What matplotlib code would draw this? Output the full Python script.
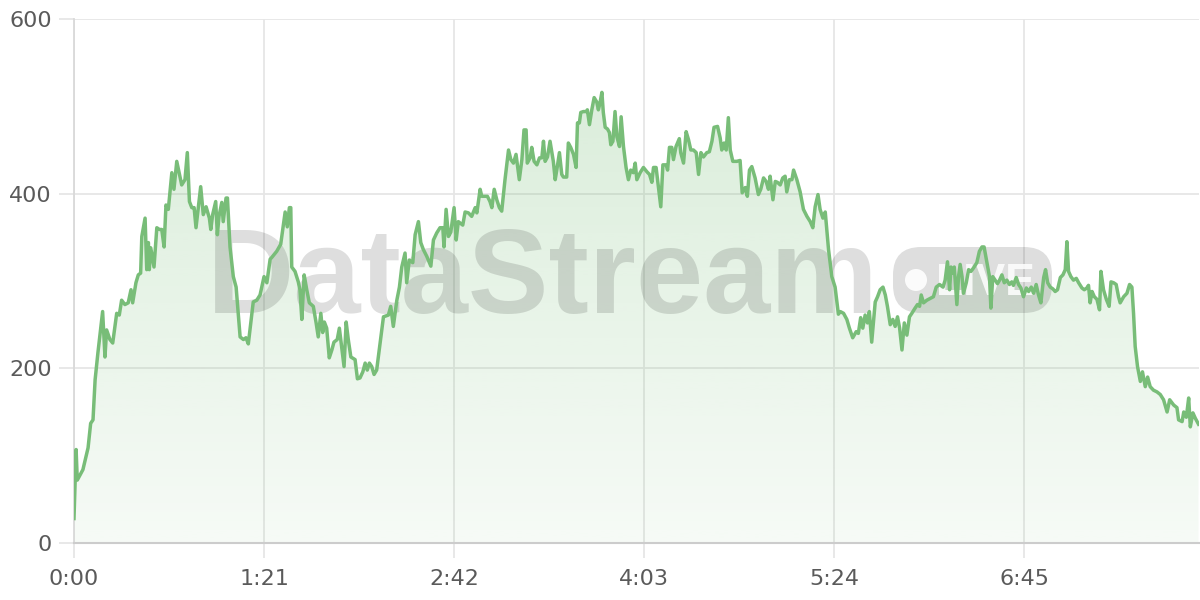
import numpy as np
import matplotlib
matplotlib.use("Agg")
import matplotlib.pyplot as plt
from matplotlib.patches import FancyBboxPatch, Circle
from matplotlib.transforms import IdentityTransform

plt.rcParams['font.family'] = ['Liberation Sans', 'DejaVu Sans']

# ---------------- data (time in seconds, value) ----------------
times_a = [0.0, 0.9, 1.4, 3.8, 6.0, 7.1, 8.1, 9.0, 10.2, 12.2,
           13.2, 13.9, 15.3, 16.5, 18.2, 19.3, 20.3, 21.7, 23.1, 24.3,
           25.0, 26.4, 27.4, 28.4, 28.9, 30.3, 31.0, 31.7, 32.1, 32.7,
           34.1, 35.3, 36.4, 37.4, 38.4, 39.2, 40.2, 41.7, 42.6, 43.8,
           45.9, 47.3, 48.3, 49.2, 50.2, 51.2, 52.0, 54.0, 55.1, 56.3,
           57.7, 58.3, 59.1, 60.4, 61.1, 61.8, 63.0, 63.6, 64.8, 65.4,
           66.5, 67.9, 69.1, 70.8, 72.2, 73.3, 74.3, 76.4, 77.9, 79.3,
           81.0, 82.2, 83.6]
values_a = [28, 107, 72, 84, 109, 137, 141, 187, 218, 265,
            213, 244, 233, 229, 263, 261, 278, 273, 275, 290,
            275, 298, 307, 309, 351, 372, 313, 344, 313, 338,
            316, 361, 359, 359, 339, 387, 382, 424, 405, 437,
            410, 416, 447, 391, 384, 384, 361, 408, 376, 385,
            372, 359, 376, 391, 353, 374, 390, 368, 395, 395,
            339, 305, 293, 236, 233, 235, 228, 276, 278, 284,
            305, 298, 325]

times_b = [84.3, 86.4, 88.1, 90.0, 90.9, 91.8, 92.4, 92.8, 94.2, 95.6,
           96.3, 97.1, 98.1, 99.2, 100.3, 102.0, 103.2, 104.1, 105.2, 106.0,
           106.7, 107.7, 108.8, 109.9, 110.8, 112.2, 113.1, 114.1, 115.1, 116.0,
           116.9, 118.0, 119.8, 120.8, 121.9, 123.1, 124.1, 125.0, 125.9, 126.9,
           127.9, 129.0, 130.8, 131.9, 134.0, 135.0, 136.1, 137.6, 138.7, 139.7,
           141.1, 141.8, 142.9, 144.4, 145.4, 146.8, 147.8, 148.9, 150.4, 152.1,
           153.2, 154.6, 156.0, 157.2, 157.7, 158.6, 159.6, 160.6, 162.0, 162.9,
           163.8]
values_b = [327, 334, 342, 379, 362, 384, 384, 316, 311, 299,
            290, 256, 307, 290, 275, 271, 252, 236, 263, 241,
            253, 246, 212, 221, 230, 233, 246, 224, 202, 253,
            233, 213, 210, 188, 189, 196, 206, 198, 206, 202,
            193, 198, 236, 259, 261, 271, 248, 278, 293, 316,
            332, 298, 324, 321, 353, 368, 344, 336, 328, 317,
            347, 355, 361, 361, 339, 382, 351, 356, 384, 347,
            368]

times_c = [165.7, 166.7, 168.1, 169.5, 171.0, 171.7, 173.1, 173.8, 175.2, 176.2,
           177.3, 178.1, 179.1, 180.2, 181.3, 182.3, 183.7, 185.2, 186.2, 187.3,
           188.4, 189.8, 190.9, 191.8, 192.7, 193.2, 194.4, 195.1, 196.1, 197.3,
           198.4, 199.4, 200.1, 200.8, 201.8, 202.9, 203.7, 204.3, 205.1, 206.0,
           206.9, 207.9, 208.6, 210.0, 210.7, 211.7, 212.9, 214.0, 214.6, 215.4,
           216.0, 217.1, 218.3, 218.8, 219.7, 220.7, 221.7, 222.8, 223.5, 224.2,
           225.0, 225.6, 226.4, 227.4, 228.2, 228.8, 229.7, 230.6, 231.4, 232.5,
           233.2, 234.2, 235.3, 236.3, 237.3, 238.4, 239.2, 239.9, 241.3, 242.7]
values_c = [364, 379, 378, 374, 384, 378, 405, 397, 397, 397,
            391, 384, 405, 393, 384, 380, 416, 450, 439, 435,
            445, 416, 439, 473, 473, 435, 441, 453, 437, 433,
            441, 441, 460, 437, 442, 460, 447, 437, 416, 431,
            447, 422, 419, 419, 458, 453, 445, 430, 481, 481,
            493, 494, 494, 496, 479, 496, 510, 505, 496, 504,
            516, 493, 476, 474, 470, 456, 460, 494, 465, 454,
            488, 454, 430, 416, 427, 424, 435, 416, 424, 430]

times_d = [244.2, 245.3, 246.3, 247.0, 248.1, 249.1, 250.1, 251.0, 252.4, 253.0,
           253.8, 254.8, 255.5, 256.6, 258.0, 258.6, 259.8, 260.9, 261.9, 262.9,
           264.0, 265.2, 266.2, 267.2, 268.3, 269.7, 270.8, 271.9, 272.8, 274.3,
           275.4, 276.1, 277.1, 278.0, 278.9, 279.7, 280.8, 282.5, 283.9, 284.8,
           286.1, 287.0, 287.9, 288.9, 290.3, 291.7, 292.7, 293.9, 295.0, 296.0,
           296.7, 297.9, 298.9, 299.8, 301.0, 302.1, 303.1, 303.8, 304.9, 306.0,
           306.7, 308.1, 309.5, 310.9, 312.4, 313.8, 314.9, 315.9, 317.1, 318.0,
           319.2, 320.2, 321.6, 323.0, 324.4]
values_d = [425, 422, 413, 430, 430, 408, 385, 433, 433, 427,
            453, 453, 439, 454, 463, 447, 435, 471, 462, 450,
            450, 447, 422, 447, 442, 447, 448, 460, 476, 477,
            464, 450, 458, 450, 487, 450, 437, 437, 438, 401,
            407, 397, 427, 431, 418, 399, 405, 418, 414, 405,
            420, 393, 414, 413, 410, 418, 420, 402, 416, 416,
            427, 416, 402, 382, 374, 368, 361, 385, 399, 382,
            372, 379, 336, 305, 293]

times_e = [325.8, 326.6, 328.0, 329.4, 330.5, 331.9, 333.4, 334.3, 335.3, 336.2,
           337.2, 338.2, 339.0, 340.0, 341.5, 342.5, 343.6, 344.8, 345.8, 346.7,
           347.9, 349.0, 350.0, 351.0, 351.9, 352.9, 353.9, 355.0, 356.1, 357.1,
           358.5, 359.5, 360.4, 361.1, 362.1, 363.5, 364.9, 366.3, 367.5, 368.9,
           370.4, 371.3, 372.3, 373.2, 373.8, 374.6, 375.2, 376.3, 377.0, 377.7,
           378.5, 379.1, 380.3, 381.3, 382.3, 383.4, 384.8, 385.9, 387.0, 387.9,
           389.1, 390.2, 390.8, 391.6, 392.6, 393.6, 394.5, 395.5, 396.5, 397.6,
           398.7, 399.7, 400.4, 401.6, 402.6, 403.6, 404.7, 405.9, 406.9, 408.0,
           409.0, 410.1, 411.1, 412.1, 413.3, 414.1, 415.0, 416.1, 417.2, 418.2,
           419.2, 420.4, 421.5, 422.5, 423.2, 423.9, 424.9, 426.0, 427.2, 428.2,
           429.6, 430.6, 431.7, 432.4, 433.1, 433.9, 434.9, 436.0, 437.1, 437.7,
           438.8, 440.0, 441.2, 442.0, 443.1, 444.2, 445.2, 445.9, 447.4, 448.8,
           449.9, 450.9, 451.6, 452.3, 453.3, 454.5, 455.4, 456.6, 457.6, 458.7,
           460.1, 461.6, 463.0, 464.4, 465.9, 467.0, 468.7, 470.1, 470.8, 472.3,
           473.0, 474.1, 475.1, 475.8, 476.9, 477.9, 479.3]
values_e = [262, 265, 263, 256, 246, 235, 242, 240, 258, 246,
            261, 252, 265, 230, 276, 282, 290, 293, 284, 271,
            250, 256, 248, 259, 246, 221, 252, 238, 259, 263,
            269, 273, 271, 284, 275, 278, 280, 282, 293, 296,
            293, 301, 322, 290, 316, 309, 316, 273, 305, 319,
            305, 286, 298, 313, 311, 315, 321, 334, 339, 339,
            321, 305, 269, 305, 301, 297, 301, 307, 298, 301,
            296, 299, 295, 304, 296, 292, 282, 292, 288, 293,
            286, 296, 284, 275, 304, 313, 298, 293, 291, 288,
            290, 304, 307, 313, 345, 311, 305, 301, 303, 298,
            292, 290, 292, 295, 275, 288, 282, 279, 267, 311,
            290, 279, 271, 299, 298, 296, 282, 275, 282, 286,
            296, 293, 263, 225, 202, 185, 196, 179, 190, 179,
            175, 173, 170, 164, 150, 164, 158, 155, 141, 139,
            150, 144, 166, 133, 149, 143, 136]

x_tick_values = [0, 81, 162, 243, 324, 405]
x_tick_labels = ['0:00', '1:21', '2:42', '4:03', '5:24', '6:45']
y_tick_values = [0, 200, 400, 600]
y_tick_labels = ['0', '200', '400', '600']
watermark_text = 'DataStream'
badge_text = 'LIVE'

t = np.array(times_a + times_b + times_c + times_d + times_e, dtype=float)
v = np.array(values_a + values_b + values_c + values_d + values_e, dtype=float)

# ---------------- styling ----------------
line_color = '#78bd78'
green_rgb = np.array([120, 190, 120]) / 255.0
grid_color = '#e6e6e6'
label_color = '#5a5a5a'
x_max = 479.5
y_max = 600

fig = plt.figure(figsize=(12, 6), dpi=100)
fig.patch.set_facecolor('white')
ax = fig.add_axes([74 / 1200, 57 / 600, 1125 / 1200, 524 / 600])

# gradient fill under the line
poly = ax.fill_between(t, v, 0, facecolor='none', edgecolor='none')
n = 256
frac = np.linspace(0, 1, n)[:, None]
rgba = np.zeros((n, 1, 4))
rgba[..., 0] = green_rgb[0]
rgba[..., 1] = green_rgb[1]
rgba[..., 2] = green_rgb[2]
rgba[..., 3] = 0.065 + 0.235 * frac
im = ax.imshow(rgba, extent=[0, x_max, 0, y_max], origin='lower',
               aspect='auto', zorder=1, interpolation='bilinear')
im.set_clip_path(poly.get_paths()[0], transform=ax.transData)

# watermark (under the line)
ax.text(207 / 1200, 1 - 313 / 600, watermark_text, transform=fig.transFigure,
        fontsize=87, fontweight='bold', color='black', alpha=0.13,
        ha='left', va='baseline', zorder=2)
pill = FancyBboxPatch((893, 600 - 313), 159, 66,
                      boxstyle='round,pad=0,rounding_size=28',
                      transform=IdentityTransform(), facecolor='black',
                      edgecolor='none', alpha=0.13, zorder=2)
ax.add_artist(pill)
dot = Circle((916, 600 - 280), 11, transform=IdentityTransform(),
             facecolor='white', edgecolor='none', alpha=0.9, zorder=2.1)
ax.add_artist(dot)
ax.text(936 / 1200, 1 - 295 / 600, badge_text, transform=fig.transFigure,
        fontsize=32, fontweight='bold', color='white', alpha=0.85,
        ha='left', va='baseline', zorder=2.1)

# line
ax.plot(t, v, color=line_color, lw=2.5, zorder=3)

ax.set_xlim(0, x_max)
ax.set_ylim(0, y_max)
ax.set_xticks(x_tick_values, x_tick_labels)
ax.set_yticks(y_tick_values, y_tick_labels)
for lbl in ax.get_xticklabels() + ax.get_yticklabels():
    lbl.set_fontfamily(['DejaVu Sans'])
ax.set_axisbelow(True)
ax.grid(True, color=grid_color, lw=1.3, zorder=0)
ax.tick_params(axis='both', length=10.8, width=1.3, color=grid_color,
               labelsize=16, labelcolor=label_color)
ax.tick_params(axis='x', pad=8)
ax.tick_params(axis='y', pad=5)
for side in ['top', 'right']:
    ax.spines[side].set_visible(False)
ax.spines['left'].set_color('#d9d9d9')
ax.spines['left'].set_linewidth(1.3)
ax.spines['bottom'].set_color('#cccccc')
ax.spines['bottom'].set_linewidth(1.5)

fig.savefig('out.png', dpi=100, facecolor='white')
